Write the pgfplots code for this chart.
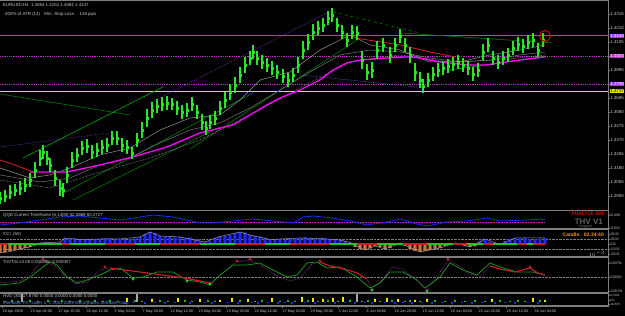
\documentclass[border=0pt]{standalone}
\usepackage{graphicx}
\usepackage{pgfplots}
\usepackage{pgfplotstable}
\pgfplotsset{compat=1.18}
\usepackage{fontspec}
\setmainfont{Liberation Sans}
\definecolor{cgreen}{RGB}{40,230,40}
\definecolor{cdkgreen}{RGB}{0,120,0}
\definecolor{cmidgreen}{RGB}{0,170,0}
\definecolor{cmag}{RGB}{255,0,255}
\definecolor{cpurp}{RGB}{160,60,255}
\definecolor{cdot}{RGB}{190,50,200}
\definecolor{cyel}{RGB}{230,230,0}
\definecolor{cgray}{RGB}{150,150,150}
\definecolor{cred}{RGB}{200,30,40}
\definecolor{cblue}{RGB}{30,40,250}
\definecolor{corange}{RGB}{200,115,55}
\definecolor{txt}{RGB}{200,200,200}
\definecolor{sep}{RGB}{125,125,125}
\newcommand{\tf}{\fontsize{4.4}{5}\selectfont}
\newcommand{\smf}{\fontsize{3.6}{4}\selectfont}
\newcommand{\nl}[1]{\scalebox{0.75}[1]{#1}}
\pgfplotsset{pane/.style={scale only axis, anchor=south west, width=608pt, xmin=0, xmax=608,
  axis x line=none, axis y line*=right, axis line style={draw=none}, tick align=outside,
  major tick length=1.6pt, ytick style={draw=sep, line width=0.4pt},
  yticklabel style={font=\tf, text=txt, inner sep=0.5pt}, clip=true, unbounded coords=jump},
  subpane/.style={pane, yticklabel style={font=\smf, text=txt, inner sep=0.5pt}}}

\pgfplotstableread{
x p e
0 1.2935 .0045
5 1.2950 .0045
10 1.2980 .0050
15 1.2995 .0045
20 1.3010 .0050
25 1.3032 .0050
30 1.3070 .0055
35 1.3145 .0060
40 1.3235 .0060
43 1.3280 .0055
47 1.3235 .0050
50 1.3182 .0055
55 1.3085 .0060
60 1.3010 .0060
63 1.2995 .0050
67 1.3108 .0060
72 1.3220 .0060
77 1.3258 .0050
82 1.3310 .0055
87 1.3325 .0050
92 1.3280 .0050
97 1.3295 .0050
102 1.3318 .0050
107 1.3333 .0055
112 1.3385 .0055
117 1.3385 .0050
122 1.3333 .0050
127 1.3318 .0050
132 1.3273 .0045
137 1.3370 .0055
142 1.3445 .0060
147 1.3535 .0065
152 1.3595 .0060
157 1.3625 .0050
162 1.3640 .0050
167 1.3648 .0050
172 1.3640 .0045
177 1.3610 .0050
182 1.3580 .0055
187 1.3595 .0050
192 1.3640 .0050
197 1.3580 .0055
202 1.3505 .0060
206 1.3460 .0055
210 1.3505 .0055
215 1.3535 .0050
220 1.3610 .0055
225 1.3670 .0060
230 1.3730 .0060
235 1.3783 .0060
240 1.3858 .0060
245 1.3933 .0060
250 1.3985 .0055
253 1.4030 .0050
257 1.3985 .0050
262 1.3955 .0050
267 1.3933 .0050
272 1.3910 .0050
277 1.3880 .0050
283 1.3850 .0050
288 1.3820 .0050
293 1.3858 .0055
298 1.3933 .0060
303 1.4045 .0065
308 1.4105 .0060
313 1.4180 .0060
318 1.4210 .0055
323 1.4233 .0055
328 1.4285 .0055
332 1.4308 .0050
337 1.4233 .0055
342 1.4180 .0055
347 1.4120 .0055
352 1.4180 .0055
357 1.4173 .0055
362 1.3970 .0070
367 1.3880 .0060
372 1.3895 .0060
377 1.4045 .0065
383 1.4083 .0055
390 1.4008 .0060
395 1.4083 .0055
400 1.4150 .0055
405 1.4083 .0055
410 1.4008 .0060
415 1.3880 .0065
420 1.3820 .0060
423 1.3775 .0050
428 1.3820 .0055
433 1.3865 .0055
438 1.3895 .0055
443 1.3910 .0050
448 1.3925 .0050
453 1.3940 .0050
458 1.3955 .0050
463 1.3933 .0050
468 1.3910 .0050
473 1.3865 .0050
478 1.3895 .0050
483 1.4030 .0060
488 1.4083 .0055
493 1.3985 .0055
498 1.3955 .0050
503 1.3985 .0050
508 1.4008 .0050
513 1.4060 .0050
518 1.4090 .0050
523 1.4075 .0050
528 1.4105 .0050
533 1.4120 .0050
538 1.4045 .0050
543 1.4120 .0055
}\candles

\begin{document}
\begin{tikzpicture}
\fill[black] (0pt,0pt) rectangle (625pt,316pt);

% ---------------- main price pane ----------------
\begin{axis}[pane, at={(0pt,107pt)}, height=207pt, ymin=1.28525, ymax=1.4405,
  ytick={1.4315,1.4210,1.4105,1.4000,1.3895,1.3790,1.3685,1.3580,1.3475,1.3370,1.3265,1.3160,1.3055,1.2950},
  yticklabels={1.4315,1.4210,1.4105,1.4000,1.3895,1.3790,1.3685,1.3580,1.3475,1.3370,1.3265,1.3160,1.3055,1.2950}]
\addplot[cyel, line width=0.8pt] coordinates {(0,1.3737) (608,1.3737)};
\addplot[cdot, densely dotted, line width=0.8pt] coordinates {(0,1.4000) (608,1.4000)};
\addplot[cdot, densely dotted, line width=0.8pt] coordinates {(0,1.3790) (608,1.3790)};
\addplot[cpurp, line width=1pt] coordinates {(0,1.4150) (608,1.4150)};
% trend lines
\addplot[cdkgreen, line width=0.6pt] coordinates {(0,1.3715) (130,1.3558)};
\addplot[cmidgreen, line width=0.6pt] coordinates {(23,1.3235) (163,1.3768)};
\addplot[cdkgreen, line width=0.6pt] coordinates {(60,1.2958) (253,1.3723)};
\addplot[cdkgreen, line width=0.6pt] coordinates {(73,1.2920) (220,1.3468)};
\addplot[cdkgreen, line width=0.6pt] coordinates {(190,1.3303) (357,1.4120)};
\addplot[cdkgreen, dashed, line width=0.6pt] coordinates {(333,1.4330) (420,1.4173)};
\addplot[cdkgreen, line width=0.6pt] coordinates {(400,1.4173) (553,1.4098)};
\addplot[cmidgreen, line width=0.6pt] coordinates {(450,1.3895) (547,1.4000)};
\addplot[cpurp!80!black, densely dotted, line width=0.6pt] coordinates {(150,1.3648) (327,1.4323)};
\addplot[cpurp!80!black, densely dotted, line width=0.6pt] coordinates {(0,1.3318) (110,1.3423)};
\addplot[cblue!70!white, densely dotted, line width=0.6pt] coordinates {(300,1.3858) (427,1.3760)};
% gray moving averages
\addplot[cgray, line width=0.5pt] coordinates {(0,1.3160)(30,1.3085)(50,1.3108)(70,1.3160)(100,1.3258)(130,1.3310)(160,1.3445)(190,1.3535)(220,1.3558)(240,1.3670)(260,1.3820)(290,1.3880)(320,1.4045)(350,1.4158)(370,1.4083)(400,1.4045)(430,1.3955)(460,1.3955)(490,1.4008)(520,1.4045)(545,1.4083)};
\addplot[cgray!80!black, line width=0.5pt] coordinates {(0,1.3108)(40,1.3055)(70,1.3085)(100,1.3183)(130,1.3235)(160,1.3348)(190,1.3445)(220,1.3498)(250,1.3610)(280,1.3745)(310,1.3880)(340,1.4008)(370,1.4045)(400,1.4030)(430,1.3985)(460,1.3955)(490,1.3970)(520,1.4008)(545,1.4030)};
\addplot[white!80!black, densely dotted, line width=0.5pt] coordinates {(0,1.3070)(50,1.3010)(100,1.3130)(150,1.3235)(200,1.3370)(250,1.3558)(300,1.3760)(350,1.3955)(400,1.4008)(450,1.3955)(500,1.3970)(545,1.4008)};
% red and magenta averages
\addplot[cred, line width=0.9pt] coordinates {(0,1.3220)(15,1.3183)(33,1.3130)};
\addplot[cred, line width=0.9pt] coordinates {(355,1.4135)(400,1.4083)(430,1.4030)(455,1.3993)};
\addplot[cmag, line width=1.3pt] coordinates {(30,1.3130)(67,1.3130)(100,1.3183)(133,1.3243)(167,1.3318)(200,1.3423)(233,1.3483)(250,1.3558)(267,1.3633)(280,1.3685)(300,1.3745)(320,1.3820)(333,1.3895)(347,1.3948)(360,1.3970)(387,1.3985)(407,1.3993)(420,1.3985)(440,1.3955)(467,1.3933)(487,1.3933)(500,1.3948)(520,1.3970)(545,1.3993)};
% candles
\addplot[only marks, mark=square*, mark size=1.2pt, color=cgreen,
  error bars/.cd, y dir=both, y explicit, error mark=none,
  error bar style={line width=2.3pt, cgreen}] table[x=x, y=p, y error=e] {\candles};
\addplot[only marks, mark=o, mark size=5.5pt, mark options={draw=red!85!black, line width=1pt}] coordinates {(545,1.4150)};
\end{axis}

% ---------------- QQE pane ----------------
\begin{axis}[subpane, at={(0pt,88pt)}, height=16pt, ymin=20, ymax=100,
  ytick={82.4688,20.8242}, yticklabels={\nl{82.4688},\nl{20.8242}}]
\addplot[cdot, densely dotted, line width=0.6pt] coordinates {(0,50) (545,50)};
\addplot[cblue, line width=0.8pt] coordinates {(0,35)(20,45)(40,60)(60,75)(80,80)(100,70)(120,60)(140,75)(153,85)(173,75)(200,45)(213,45)(233,55)(253,65)(273,55)(293,45)(303,75)(313,80)(333,70)(350,55)(367,35)(387,50)(400,65)(417,40)(427,30)(447,50)(467,55)(487,70)(500,55)(527,60)(540,65)(545,60)};
\end{axis}

% ---------------- CCI pane ----------------
\begin{axis}[subpane, at={(0pt,60pt)}, height=26pt, ymin=-240, ymax=280,
  ytick={200,100,0,-100,-200}, yticklabels={\nl{200.00},\nl{100.00},\nl{0.00},\nl{-100.00},\nl{-200.00}}]
\addplot[sep, densely dotted, line width=0.4pt] coordinates {(0,100) (608,100)};
\addplot[sep, densely dotted, line width=0.4pt] coordinates {(0,-100) (608,-100)};
\addplot[ybar, bar width=3.4pt, bar shift=0pt, fill=cblue, draw=none] coordinates {(40,20)(45,40)(50,30)(55,20)(60,40)(65,120)(70,100)(75,110)(80,90)(85,100)(90,80)(95,90)(100,100)(105,120)(110,110)(115,90)(120,100)(125,80)(130,90)(135,110)(140,140)(145,200)(150,240)(155,220)(160,160)(165,140)(170,150)(175,130)(180,140)(185,120)(190,130)(195,100)(200,60)(205,40)(210,60)(215,120)(220,150)(225,160)(230,180)(235,220)(240,240)(245,230)(250,180)(255,160)(260,150)(265,120)(270,90)(275,80)(280,90)(285,80)(290,100)(295,110)(300,120)(305,140)(310,120)(315,100)(320,110)(325,120)(330,100)(335,90)(340,80)(345,60)(350,30)(400,20)(455,20)(480,60)(485,100)(490,40)(495,10)(505,60)(510,100)(515,120)(520,110)(525,120)(530,100)(535,90)(540,110)(545,120)};
\addplot[ybar, bar width=3.4pt, bar shift=0pt, fill=corange, draw=none] coordinates {(0,-180)(5,-170)(10,-150)(15,-120)(20,-100)(25,-80)(30,-60)(35,-30)(355,-60)(360,-100)(365,-120)(370,-90)(375,-40)(380,-60)(385,-100)(390,-80)(395,-30)(405,-40)(410,-100)(415,-140)(420,-160)(425,-140)(430,-120)(435,-100)(440,-80)(445,-40)(450,-20)(460,-20)(465,-40)(470,-60)(475,-50)(500,-10)};
\addplot[cgray, line width=0.5pt] coordinates {(0,-180)(10,-150)(20,-100)(30,-60)(40,20)(50,30)(60,40)(65,120)(80,90)(100,100)(120,100)(140,140)(150,240)(160,160)(180,140)(200,60)(205,40)(220,150)(240,240)(250,180)(270,90)(300,120)(320,110)(340,80)(350,30)(365,-120)(375,-40)(385,-100)(400,20)(420,-160)(440,-80)(455,20)(470,-60)(485,100)(500,-10)(515,120)(545,120)};
\addplot[cred, line width=2.6pt] coordinates {(0,0)(8,0)(8,nan)(62,0)(70,0)(70,nan)(105,0)(135,0)(135,nan)(160,0)(200,0)(200,nan)(235,0)(265,0)(265,nan)(290,0)(330,0)(330,nan)(357,0)(377,0)(377,nan)(403,0)(427,0)(427,nan)(453,0)(467,0)(467,nan)(483,0)(493,0)(493,nan)(517,0)(527,0)(527,nan)(533,0)(545,0)};
\addplot[cgreen!85!black, line width=2.6pt] coordinates {(8,0)(62,0)(62,nan)(70,0)(105,0)(105,nan)(135,0)(160,0)(160,nan)(200,0)(235,0)(235,nan)(265,0)(290,0)(290,nan)(330,0)(357,0)(357,nan)(377,0)(403,0)(403,nan)(427,0)(453,0)(453,nan)(467,0)(483,0)(483,nan)(493,0)(517,0)(517,nan)(527,0)(533,0)};
\end{axis}

% ---------------- TriVTrix pane ----------------
\begin{axis}[subpane, at={(0pt,24pt)}, height=34pt, ymin=-0.0030, ymax=0.0038,
  ytick={0.002794,0,-0.002794}, yticklabels={\nl{0.002794},\nl{0.000000},\nl{-0.002794}}]
\addplot[sep, densely dotted, line width=0.4pt] coordinates {(0,0) (608,0)};
\addplot[cdot, densely dotted, line width=0.6pt] coordinates {(0,-0.0012)(20,-0.0008)(33,0.0010)(43,0.0034)(55,0.0022)(65,0.0002)(75,-0.0014)(87,-0.0010)(100,0.0014)(110,0.0018)(125,0.0014)(140,0.0010)(155,0.0006)(170,0.0002)(185,-0.0002)(200,-0.0008)(210,-0.0012)(222,0.0006)(237,0.0030)(250,0.0034)(262,0.0022)(275,0.0004)(290,-0.0008)(300,-0.0002)(312,0.0026)(320,0.0030)(330,0.0022)(345,0.0016)(357,0.0008)(367,-0.0004)(372,-0.0024)(382,-0.0006)(392,0.0020)(402,0.0016)(412,0.0002)(420,-0.0014)(427,-0.0026)(437,0.0000)(448,0.0034)(458,0.0024)(470,0.0006)(480,0.0000)(490,0.0022)(500,0.0016)(515,0.0010)(530,0.0018)(538,0.0008)(545,0.0004)};
\addplot[cgreen!70!black, line width=0.7pt] coordinates {(0,-0.0016)(20,-0.0012)(33,0.0004)(43,0.0020)(50,0.0030)(57,0.0024)(67,0)(77,-0.0012)(87,-0.0006)(100,0.0004)(110,0.0014)(120,0.0018)(133,-0.0002)(143,0)(157,0.0010)(173,0.0010)(187,-0.0006)(200,-0.0010)(210,-0.0016)(220,0.0004)(233,0.0024)(247,0.0024)(260,0.0028)(273,0.0014)(287,0)(297,0.0004)(307,0.0028)(317,0.0030)(327,0.0018)(340,0.0020)(357,0)(370,-0.0022)(380,-0.0012)(390,0.0010)(403,0.0010)(417,-0.0006)(425,-0.0022)(440,0)(450,0.0028)(463,0.0014)(477,0.0004)(490,0.0028)(500,0.0020)(517,0.0010)(533,0.0010)(545,0.0004)};
\addplot[cred, line width=1.1pt] coordinates {(110,0.0018)(125,0.0014)(140,0.0010)(155,0.0006)(170,0.0002)(185,-0.0002)(200,-0.0008)(210,-0.0012)};
\addplot[cred, line width=1.1pt] coordinates {(320,0.0030)(330,0.0022)(345,0.0016)(357,0.0008)(367,-0.0004)};
\addplot[cred, line width=1.1pt] coordinates {(490,0.0022)(500,0.0016)(515,0.0010)(530,0.0018)(538,0.0008)(545,0.0004)};
\addplot[only marks, mark=triangle*, mark size=1.4pt, color=cred] coordinates {(43,0.0036)(105,0.0020)(237,0.0032)(250,0.0036)(320,0.0032)(448,0.0036)(530,0.0020)};
\addplot[only marks, mark=triangle*, mark size=1.4pt, mark options={rotate=180}, color=cgreen] coordinates {(133,-0.0004)(187,-0.0008)(210,-0.0014)(372,-0.0026)(427,-0.0028)};
\end{axis}

% ---------------- volume pane ----------------
\begin{axis}[subpane, at={(0pt,11pt)}, height=11pt, ymin=-3, ymax=8,
  yticklabel style={font=\fontsize{3}{3.2}\selectfont, text=txt, inner sep=0.3pt},
  ytick={7,2,-2.5}, yticklabels={\nl{147.6624},\nl{0.00},\nl{-142.6875}}]
\addplot[ybar, bar width=1.2pt, bar shift=0pt, fill=white, draw=none] coordinates {(22,8)(137,8)(357,8)};
\addplot[ybar, bar width=1.6pt, bar shift=0pt, fill=cgreen!80!black, draw=none] coordinates {(5,1)(12,2)(18,1)(30,2)(38,1)(48,2)(55,1)(62,2)(70,1)(80,2)(88,1)(95,2)(103,1)(110,2)(118,1)(135,2)(142,1)(160,2)(168,1)(185,2)(192,1)(208,2)(215,1)(240,2)(255,1)(262,2)(280,1)(288,2)(295,1)(308,2)(318,1)(328,2)(338,1)(350,2)(362,1)(368,2)(380,1)(392,2)(405,1)(410,2)(420,1)(435,2)(445,1)(455,2)(465,1)(475,2)(485,1)(500,2)(510,1)(518,2)(525,1)(540,2)};
\addplot[ybar, bar width=1.8pt, bar shift=0pt, fill=cyel, draw=none] coordinates {(127,4)(152,3)(178,4)(200,3)(220,2)(232,4)(248,3)(272,4)(302,5)(313,4)(323,3)(333,4)(343,5)(375,3)(387,4)(398,3)(415,2)(427,3)(492,3)(533,4)(545,2)};
\addplot[ybar, bar width=1.8pt, bar shift=0pt, fill=cblue, draw=none] coordinates {(125,-2)(133,-1)(145,-2)(155,-1)(165,-2)(175,-1)(190,-2)(205,-1)(212,-2)(228,-1)(238,-2)(252,-1)(258,-2)(268,-1)(278,-2)(285,-1)(292,-2)(305,-1)(315,-2)(325,-1)(335,-2)(345,-1)(355,-2)(365,-1)(372,-2)(385,-1)(395,-2)(403,-1)(412,-2)(422,-1)(432,-2)(442,-1)(452,-2)(462,-1)(472,-2)(482,-1)(495,-2)(505,-1)(515,-2)(528,-1)(538,-2)};
\end{axis}

% ---------------- frame, separators ----------------
\foreach \yy in {105.5,87,59,23,10} {\draw[sep, line width=1.3pt] (0pt,\yy pt) -- (608.5pt,\yy pt);}
\draw[sep, line width=0.8pt] (608.5pt,10pt) -- (608.5pt,316pt);
\draw[sep, line width=0.6pt] (0pt,315.7pt) -- (608.5pt,315.7pt);

% price-axis level boxes
\node[fill=cpurp, text=white, font=\tf, inner sep=0.5pt, anchor=west] at (609.8pt,280pt) {1.4150};
\node[fill=cdot, text=white, font=\tf, inner sep=0.5pt, anchor=west] at (609.8pt,260pt) {1.4000};
\node[fill=cpurp!80!cdot, text=white, font=\tf, inner sep=0.5pt, anchor=west] at (609.8pt,232pt) {1.3790};
\node[fill=cyel, text=black, font=\tf, inner sep=0.5pt, anchor=west] at (609.8pt,225pt) {1.3737};

% header texts
\node[anchor=west, font=\tf, text=txt, inner sep=0pt] at (3pt,311pt) {EURUSD,H4\ \ 1.4084 1.4151 1.4084 1.4147};
\node[anchor=west, font=\tf, text=txt, inner sep=0pt] at (5pt,302pt) {200\% of ATR (14)\quad Min. Stop Loss:\quad 126 pips};
\node[anchor=west, font=\tf, text=txt, inner sep=0pt] at (3pt,100.5pt) {QQE Current Timeframe (5,14)00 52.2869 50.2727};
\node[anchor=west, font=\tf, text=txt, inner sep=0pt] at (3pt,82pt) {CCI\ \ (50)};
\node[anchor=west, font=\tf, text=txt, inner sep=0pt] at (3pt,54pt) {TriVTrix v4.00 0.000396 -0.000007};
\node[anchor=west, font=\tf, text=txt, inner sep=0pt] at (3pt,19.5pt) {HVD (30) 17.8750 0.0000 0.0000 0.0000 0.0000};
\node[anchor=west, font=\tf, text={rgb,255:red,110;green,140;blue,255}, inner sep=0pt] at (3pt,12.5pt) {Interbank FX Trader 4, \textcopyright\ 2001-2009 MetaQuotes Software Corp.};
\node[anchor=east, font=\fontsize{5}{6}\selectfont\bfseries, text=red!85!black, inner sep=0pt] at (605pt,102pt) {ANALYZE BMI};
\node[anchor=east, font=\fontsize{8}{9}\selectfont\bfseries, text={rgb,255:red,95;green,95;blue,95}, inner sep=0pt] at (603pt,94.5pt) {THV V1};
\node[anchor=east, font=\smf, text={rgb,255:red,110;green,110;blue,110}, inner sep=0pt] at (592pt,89.3pt) {Stopped};
\node[anchor=east, font=\fontsize{5}{6}\selectfont\bfseries, text={rgb,255:red,240;green,150;blue,20}, inner sep=0pt] at (604pt,81.5pt) {Candle:\ \ 02:34:40};

% date labels
\foreach \i/\d in {0/20 Apr 2009,1/23 Apr 04:00,2/27 Apr 20:00,3/30 Apr 12:00,4/5 May 04:00,5/7 May 20:00,6/12 May 12:00,7/15 May 04:00,8/19 May 20:00,9/22 May 12:00,10/27 May 04:00,11/29 May 20:00,12/3 Jun 12:00,13/8 Jun 04:00,14/10 Jun 20:00,15/15 Jun 12:00,16/18 Jun 04:00,17/22 Jun 20:00,18/25 Jun 12:00,19/30 Jun 04:00} {
  \draw[sep, line width=0.4pt] ({(2+28*\i)*1pt},10pt) -- ({(2+28*\i)*1pt},8pt);
  \node[anchor=west, font=\fontsize{3.7}{4}\selectfont, text=txt, inner sep=0pt] at ({(2.5+28*\i)*1pt},4.5pt) {\d};
}
\pgfresetboundingbox
\path (0pt,0pt) rectangle (625pt,316pt);
\end{tikzpicture}
\end{document}
